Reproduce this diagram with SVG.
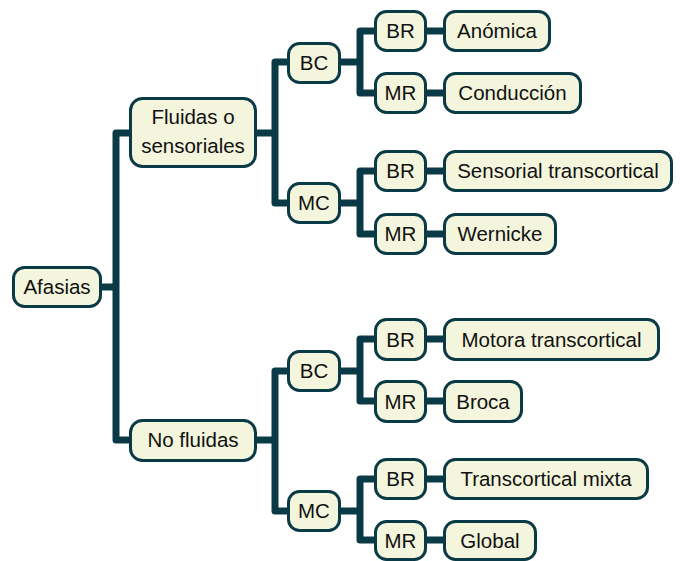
<svg xmlns="http://www.w3.org/2000/svg" width="680" height="561" viewBox="0 0 680 561">
<style>
.n rect{fill:#f3f5dc;stroke:#0b3a47;stroke-width:3}
.n text{font-family:"Liberation Sans",Arial,sans-serif;font-size:20.5px;fill:#111;text-anchor:middle}
#connectors path{fill:none;stroke:#0b3a47;stroke-width:7;stroke-linejoin:round}
</style>
<rect width="680" height="561" fill="#ffffff"/>
<g id="connectors">
<path d="M102,287 H116 M129,133 H116 V440 H129"/>
<path d="M257,133 H275 M288,62 H275 V203 H288"/>
<path d="M257,440 H275 M288,371 H275 V511 H288"/>
<path d="M341,62 H360 M374,31 H360 V93 H374"/>
<path d="M341,203 H360 M374,171 H360 V234 H374"/>
<path d="M341,371 H360 M374,339 H360 V401 H374"/>
<path d="M341,511 H360 M374,479 H360 V540 H374"/>
<path d="M427,31 H443 M427,93 H443 M427,171 H443 M427,234 H443 M427,339 H443 M427,401 H443 M427,479 H443 M427,540 H443"/>
</g>
<g id="afasias" class="n"><rect x="13.5" y="267.5" width="87" height="39" rx="11"/><text x="57" y="294">Afasias</text></g>
<g id="fluidas" class="n"><rect x="130.5" y="98.5" width="125" height="68" rx="12"/><text x="193" y="124">Fluidas o</text><text x="193" y="153">sensoriales</text></g>
<g id="nofluidas" class="n"><rect x="130.5" y="420.5" width="125" height="40" rx="12"/><text x="193" y="447">No fluidas</text></g>
<g id="bc1" class="n"><rect x="288.5" y="43.5" width="51" height="39" rx="11"/><text x="314" y="69.5">BC</text></g>
<g id="mc1" class="n"><rect x="288.5" y="183.5" width="51" height="39" rx="11"/><text x="314" y="210">MC</text></g>
<g id="br1" class="n"><rect x="375.5" y="11.5" width="50" height="39" rx="11"/><text x="400.5" y="38">BR</text></g>
<g id="mr1" class="n"><rect x="375.5" y="73.5" width="50" height="39" rx="11"/><text x="400.5" y="100">MR</text></g>
<g id="anomica" class="n"><rect x="444.5" y="11.5" width="105" height="39" rx="11"/><text x="497" y="38">Anómica</text></g>
<g id="conduccion" class="n"><rect x="444.5" y="73.5" width="136" height="39" rx="11"/><text x="512.5" y="100">Conducción</text></g>
<g id="br2" class="n"><rect x="375.5" y="151.5" width="50" height="39" rx="11"/><text x="400.5" y="178">BR</text></g>
<g id="mr2" class="n"><rect x="375.5" y="214.5" width="50" height="39" rx="11"/><text x="400.5" y="241">MR</text></g>
<g id="sensorial" class="n"><rect x="444.5" y="151.5" width="227" height="39" rx="11"/><text x="558" y="178">Sensorial transcortical</text></g>
<g id="wernicke" class="n"><rect x="444.5" y="214.5" width="111" height="39" rx="11"/><text x="500" y="241">Wernicke</text></g>
<g id="bc2" class="n"><rect x="288.5" y="351.5" width="51" height="39" rx="11"/><text x="314" y="378">BC</text></g>
<g id="mc2" class="n"><rect x="288.5" y="491.5" width="51" height="39" rx="11"/><text x="314" y="518">MC</text></g>
<g id="br3" class="n"><rect x="375.5" y="319.5" width="50" height="40" rx="11"/><text x="400.5" y="346.5">BR</text></g>
<g id="mr3" class="n"><rect x="375.5" y="381.5" width="50" height="40" rx="11"/><text x="400.5" y="408.5">MR</text></g>
<g id="motora" class="n"><rect x="444.5" y="319.5" width="214" height="40" rx="11"/><text x="551.5" y="346.5">Motora transcortical</text></g>
<g id="broca" class="n"><rect x="444.5" y="381.5" width="77" height="40" rx="11"/><text x="483" y="408.5">Broca</text></g>
<g id="br4" class="n"><rect x="375.5" y="459.5" width="50" height="39" rx="11"/><text x="400.5" y="486">BR</text></g>
<g id="mr4" class="n"><rect x="375.5" y="521.5" width="50" height="38" rx="11"/><text x="400.5" y="547.5">MR</text></g>
<g id="mixta" class="n"><rect x="444.5" y="459.5" width="203" height="39" rx="11"/><text x="546" y="486">Transcortical mixta</text></g>
<g id="global" class="n"><rect x="444.5" y="521.5" width="91" height="38" rx="11"/><text x="490" y="547.5">Global</text></g>
</svg>
